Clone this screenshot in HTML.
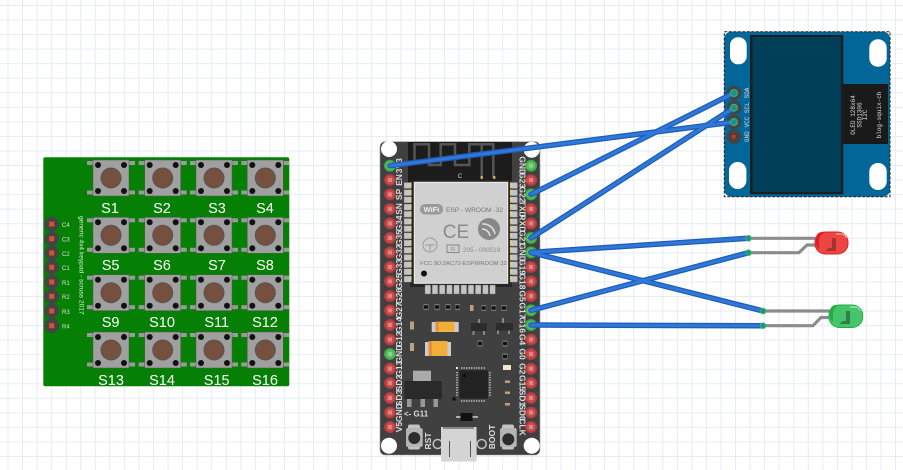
<!DOCTYPE html>
<html><head><meta charset="utf-8">
<style>
html,body{margin:0;padding:0;background:#fff;width:903px;height:470px;overflow:hidden}
svg{display:block}
text{font-family:"Liberation Sans",sans-serif}
.s{font-size:14.5px;fill:#fff;text-anchor:middle}
.k{font-size:6px;fill:#cfe8cf}
.l{font-size:8.5px;fill:#ddd;text-anchor:middle;font-weight:bold}
.m{font-family:"Liberation Mono",monospace;fill:#ddd}
</style></head><body>
<svg width="903" height="470" viewBox="0 0 903 470" xmlns="http://www.w3.org/2000/svg">
<defs>
<pattern id="g" width="14.55" height="14.55" patternUnits="userSpaceOnUse" x="7.5" y="5">
<path d="M0 0V14.55M0 0H14.55" stroke="#e6ebf3" stroke-width="2" fill="none"/>
</pattern>
<g id="btn">
<rect x="-24" y="-17" width="48" height="4" fill="#9a9a9a"/>
<rect x="-24" y="12.500" width="48" height="4" fill="#9a9a9a"/>
<rect x="-18" y="-18" width="36" height="36" fill="#a0a0a0" stroke="#555" stroke-width=".5"/>
<circle r="10" fill="#75503f" stroke="#555" stroke-width="1"/>
<circle cx="-13" cy="-13" r="3" fill="#111"/><circle cx="13" cy="-13" r="3" fill="#111"/>
<circle cx="-13" cy="13" r="3" fill="#111"/><circle cx="13" cy="13" r="3" fill="#111"/>
</g>
<g id="kp"><circle r="7.300" fill="#444"/><rect x="-2.500" y="-2.500" width="5" height="5" fill="#d9502f"/></g>
<g id="rp"><circle r="6" fill="#b23a3a"/><circle r="4.400" fill="#c64e4e"/><rect x="-2" y="-2" width="4" height="4" fill="#dd8585"/></g>
<g id="gp"><circle r="6" fill="#3aa845"/><circle r="4.400" fill="#5dbb62"/><rect x="-2" y="-2" width="4" height="4" fill="#8ed092"/></g>
<g id="pad"><rect width="7.500" height="6" fill="#c4c4c4" stroke="#666" stroke-width=".3"/></g>
<g id="sm"><rect x="-2.500" y="-3" width="5" height="6" fill="#777"/><rect x="-2" y="-1.700" width="4" height="3.400" fill="#111"/></g>
</defs>
<rect width="903" height="470" fill="#fff"/>
<rect width="903" height="470" fill="url(#g)"/>

<!-- Keypad -->
<rect x="43.300" y="157.300" width="246" height="229" rx="2" fill="#058005"/>
<use href="#btn" x="111" y="178"/><use href="#btn" x="162.700" y="178"/><use href="#btn" x="214" y="178"/><use href="#btn" x="265.300" y="178"/>
<use href="#btn" x="111" y="235.300"/><use href="#btn" x="162.700" y="235.300"/><use href="#btn" x="214" y="235.300"/><use href="#btn" x="265.300" y="235.300"/>
<use href="#btn" x="111" y="292.700"/><use href="#btn" x="162.700" y="292.700"/><use href="#btn" x="214" y="292.700"/><use href="#btn" x="265.300" y="292.700"/>
<use href="#btn" x="111" y="350"/><use href="#btn" x="162.700" y="350"/><use href="#btn" x="214" y="350"/><use href="#btn" x="265.300" y="350"/>
<text class="s" x="110" y="213">S1</text><text class="s" x="162" y="213">S2</text><text class="s" x="217" y="213">S3</text><text class="s" x="265" y="213">S4</text>
<text class="s" x="110.600" y="270">S5</text><text class="s" x="162" y="270">S6</text><text class="s" x="217" y="270">S7</text><text class="s" x="265" y="270">S8</text>
<text class="s" x="110.600" y="327">S9</text><text class="s" x="162" y="327">S10</text><text class="s" x="216.700" y="327">S11</text><text class="s" x="265" y="327">S12</text>
<text class="s" x="111" y="385">S13</text><text class="s" x="162" y="385">S14</text><text class="s" x="216.700" y="385">S15</text><text class="s" x="265" y="385">S16</text>
<use href="#kp" x="51.700" y="224"/><use href="#kp" x="51.700" y="238.700"/><use href="#kp" x="51.700" y="253"/><use href="#kp" x="51.700" y="267.300"/><use href="#kp" x="51.700" y="282"/><use href="#kp" x="51.700" y="296.300"/><use href="#kp" x="51.700" y="311"/><use href="#kp" x="51.700" y="325.700"/>
<text class="k" x="62" y="227">C4</text><text class="k" x="62" y="241.500">C3</text><text class="k" x="62" y="256">C2</text><text class="k" x="62" y="270">C1</text><text class="k" x="62" y="285">R1</text><text class="k" x="62" y="299">R2</text><text class="k" x="62" y="314">R3</text><text class="k" x="62" y="328.500">R4</text>
<text transform="translate(79.500,216) rotate(90)" font-size="6.600" fill="#d8f0d8">generic 4x4 keypad - scruss 2017</text>

<!-- ESP32 -->
<rect x="380" y="141.700" width="160" height="313.300" rx="5" fill="#404040" stroke="#999" stroke-width=".6"/>
<rect x="408" y="142" width="104" height="44" fill="#1c1c1c"/>
<path d="M414.500 165V144.300H429V165H440.700V144.300H455V165H469.300V144.300H493.300V178M481.700 144.300V178" fill="none" stroke="#555" stroke-width="2.500"/>
<rect x="480.700" y="176" width="2" height="3" fill="#d8c060"/><rect x="493.300" y="176" width="2" height="3" fill="#d8c060"/>
<text x="460" y="178" font-size="6" fill="#ddd" text-anchor="middle">C</text>
<rect x="410" y="180" width="102" height="107" fill="#262626"/>
<!-- pads -->
<use href="#pad" x="404" y="182.500"/><use href="#pad" x="404" y="189.700"/><use href="#pad" x="404" y="196.900"/><use href="#pad" x="404" y="204.100"/><use href="#pad" x="404" y="211.300"/><use href="#pad" x="404" y="218.500"/><use href="#pad" x="404" y="225.700"/><use href="#pad" x="404" y="232.900"/><use href="#pad" x="404" y="240.100"/><use href="#pad" x="404" y="247.300"/><use href="#pad" x="404" y="254.500"/><use href="#pad" x="404" y="261.700"/><use href="#pad" x="404" y="268.900"/><use href="#pad" x="404" y="276.100"/>
<use href="#pad" x="510" y="182.500"/><use href="#pad" x="510" y="189.700"/><use href="#pad" x="510" y="196.900"/><use href="#pad" x="510" y="204.100"/><use href="#pad" x="510" y="211.300"/><use href="#pad" x="510" y="218.500"/><use href="#pad" x="510" y="225.700"/><use href="#pad" x="510" y="232.900"/><use href="#pad" x="510" y="240.100"/><use href="#pad" x="510" y="247.300"/><use href="#pad" x="510" y="254.500"/><use href="#pad" x="510" y="261.700"/><use href="#pad" x="510" y="268.900"/><use href="#pad" x="510" y="276.100"/>
<path d="M410.500 182.500v98M511 182.500v98" stroke="#e6d36a" stroke-width="1.600" stroke-dasharray="4 3.200"/>
<g fill="#c4c4c4" stroke="#666" stroke-width=".3">
<rect x="425" y="285" width="5.600" height="9"/><rect x="432.200" y="285" width="5.600" height="9"/><rect x="439.400" y="285" width="5.600" height="9"/><rect x="446.600" y="285" width="5.600" height="9"/><rect x="453.800" y="285" width="5.600" height="9"/><rect x="461" y="285" width="5.600" height="9"/><rect x="468.200" y="285" width="5.600" height="9"/><rect x="475.400" y="285" width="5.600" height="9"/><rect x="482.600" y="285" width="5.600" height="9"/><rect x="489.800" y="285" width="5.600" height="9"/>
</g>
<rect x="414.300" y="182.300" width="93.400" height="101" fill="#d0d0d0" stroke="#eee" stroke-width="1"/>
<rect x="420" y="204" width="23" height="10.500" rx="5" fill="#999"/>
<text x="431.500" y="212" font-size="7.500" font-weight="bold" fill="#eee" text-anchor="middle">WiFi</text>
<text x="446" y="212" font-size="6.600" fill="#777">ESP - WROOM -32</text>
<text x="456" y="238" font-size="19" fill="#8a8a8a" text-anchor="middle">CE</text>
<circle cx="489" cy="229" r="11" fill="#888"/>
<path d="M482 224a12 12 0 0 1 13 10M482 229a8 8 0 0 1 8 7" stroke="#ddd" stroke-width="1.600" fill="none"/>
<circle cx="430" cy="245" r="7" fill="none" stroke="#999" stroke-width="1"/><path d="M425 245h10M430 245v6" stroke="#999"/>
<rect x="447" y="245" width="12" height="7.500" fill="none" stroke="#888"/>
<text x="453" y="251" font-size="5.500" fill="#888" text-anchor="middle">R</text>
<text x="463" y="252" font-size="6.300" fill="#888">205 - 000519</text>
<text x="420" y="265" font-size="5.900" fill="#777">FCC 9D:2AC72-ESPWROOM 32</text>
<circle cx="424" cy="273.500" r="3" fill="#111"/>
<!-- SMD -->
<use href="#sm" x="426" y="307"/><use href="#sm" x="437" y="307"/><use href="#sm" x="448" y="307"/><use href="#sm" x="457.500" y="307"/><use href="#sm" x="483.700" y="308"/><use href="#sm" x="493.700" y="308"/><use href="#sm" x="504" y="308"/>
<rect x="470" y="305" width="3.500" height="6" fill="#b9a27f"/>
<rect x="410" y="321.500" width="4" height="8" fill="#b9a27f"/><rect x="410" y="343" width="4" height="8" fill="#b9a27f"/>
<rect x="431.700" y="322" width="27" height="10" fill="#ccc"/><rect x="435.500" y="321.700" width="19" height="10" fill="#f3ae38"/><rect x="435.500" y="321.700" width="3" height="10" fill="#ec8a3e"/>
<rect x="425" y="342" width="26" height="14" fill="#ccc"/><rect x="428.500" y="341" width="19" height="15" fill="#f3ae38"/><rect x="428.500" y="341" width="3.500" height="15" fill="#ec8a3e"/>
<path d="M479 319v5M473.500 331v4M484 331v4M503 318v5M498 330v4M509 330v4" stroke="#888" stroke-width="2"/>
<rect x="471" y="323" width="16" height="8" fill="#2c2c2c"/><rect x="496" y="323" width="17" height="7.500" fill="#2c2c2c"/>
<use href="#sm" x="480" y="343.500"/><use href="#sm" x="505" y="343.500"/><use href="#sm" x="505" y="356.500"/>
<rect x="503" y="365" width="8" height="5" fill="#eee8cc"/>
<rect x="505" y="380.500" width="5" height="2.500" fill="#b9a27f"/><rect x="505" y="391.500" width="5" height="2.500" fill="#b9a27f"/><rect x="505" y="403" width="5" height="2.500" fill="#b9a27f"/>
<rect x="459" y="370" width="29.300" height="29" fill="#222" stroke="#555" stroke-width=".5"/>
<path d="M461 368h25M461 401h25M457 372v25M490 372v25" stroke="#ccc" stroke-width="1.500" stroke-dasharray="1.300 1.200"/>
<rect x="456" y="367" width="2" height="2" fill="#eee"/><circle cx="464.500" cy="375.500" r="1.300" fill="#000"/>
<circle cx="454" cy="399" r="1.800" fill="#111"/>
<rect x="413" y="370.700" width="18" height="10.500" fill="#aaa"/>
<rect x="404.300" y="381" width="37.400" height="18" fill="#2a2a2a"/>
<rect x="407" y="399" width="4.500" height="8" fill="#999"/><rect x="420.500" y="399" width="4.500" height="8" fill="#999"/><rect x="433.500" y="399" width="4.500" height="8" fill="#999"/>
<text x="404" y="416.500" font-size="8" fill="#ddd" font-weight="bold">&lt;- G11</text>
<rect x="456" y="416" width="22" height="2" fill="#aaa"/><rect x="460.500" y="413" width="12" height="8" fill="#111"/>
<rect x="408" y="424.500" width="12" height="25" rx="2" fill="#c4c4c4"/><rect x="406" y="428" width="16.700" height="19" rx="2" fill="#b5b5b5"/><circle cx="414.300" cy="438" r="6" fill="#2d2d2d"/>
<rect x="502" y="424.500" width="12" height="25" rx="2" fill="#c4c4c4"/><rect x="500" y="428" width="16.700" height="19" rx="2" fill="#b5b5b5"/><circle cx="508.300" cy="439.300" r="6" fill="#2d2d2d"/>
<text class="l" transform="translate(431,441) rotate(-90)" font-size="8">RST</text>
<text class="l" transform="translate(495,437) rotate(-90)" font-size="8">BOOT</text>
<circle cx="437.700" cy="444" r="4.500" fill="none" stroke="#c0c0c0" stroke-width="1.500"/><circle cx="481.700" cy="444" r="4.500" fill="none" stroke="#c0c0c0" stroke-width="1.500"/>
<path d="M441 427H476.500L476.700 461.500H441Z" fill="#d4d4d4"/><path d="M443 427H474V429H443Z" fill="#888"/>
<path d="M449.500 441V457M470.500 441V457" stroke="#555" stroke-width="1"/>
<!-- holes -->
<circle cx="389" cy="149" r="8" fill="#fff"/><circle cx="531.700" cy="149.700" r="8" fill="#fff"/><circle cx="389" cy="445.700" r="8" fill="#fff"/><circle cx="531.700" cy="445.700" r="8" fill="#fff"/>
<!-- left pins -->
<use href="#gp" x="390" y="165.700"/><use href="#rp" x="390" y="180"/><use href="#rp" x="390" y="194.400"/><use href="#rp" x="390" y="209"/><use href="#rp" x="390" y="223.400"/><use href="#rp" x="390" y="238"/><use href="#rp" x="390" y="252.400"/><use href="#rp" x="390" y="267"/><use href="#rp" x="390" y="281.400"/><use href="#rp" x="390" y="296"/><use href="#rp" x="390" y="310.400"/><use href="#rp" x="390" y="325"/><use href="#rp" x="390" y="339.500"/><use href="#gp" x="390" y="354"/><use href="#rp" x="390" y="368.700"/><use href="#rp" x="390" y="383"/><use href="#rp" x="390" y="398"/><use href="#rp" x="390" y="412.500"/><use href="#rp" x="390" y="427"/>
<!-- right pins -->
<use href="#gp" x="531" y="165.700"/><use href="#rp" x="531" y="180"/><use href="#gp" x="531" y="194.400"/><use href="#rp" x="531" y="209"/><use href="#rp" x="531" y="223.400"/><use href="#gp" x="531" y="238"/><use href="#gp" x="531" y="252.400"/><use href="#rp" x="531" y="267"/><use href="#rp" x="531" y="281.400"/><use href="#rp" x="531" y="296"/><use href="#gp" x="531" y="310.400"/><use href="#gp" x="531" y="325"/><use href="#rp" x="531" y="339.500"/><use href="#rp" x="531" y="354"/><use href="#rp" x="531" y="368.700"/><use href="#rp" x="531" y="383"/><use href="#rp" x="531" y="398"/><use href="#rp" x="531" y="412.500"/><use href="#rp" x="531" y="427"/>
<!-- left labels -->
<text class="l" transform="translate(402,165.700) rotate(-90)">3V3</text>
<text class="l" transform="translate(402,180) rotate(-90)">EN</text>
<text class="l" transform="translate(402,194.400) rotate(-90)">SP</text>
<text class="l" transform="translate(402,209) rotate(-90)">SN</text>
<text class="l" transform="translate(402,223.400) rotate(-90)">G34</text>
<text class="l" transform="translate(402,238) rotate(-90)">G35</text>
<text class="l" transform="translate(402,252.400) rotate(-90)">G32</text>
<text class="l" transform="translate(402,267) rotate(-90)">G33</text>
<text class="l" transform="translate(402,281.400) rotate(-90)">G25</text>
<text class="l" transform="translate(402,296) rotate(-90)">G26</text>
<text class="l" transform="translate(402,310.400) rotate(-90)">G27</text>
<text class="l" transform="translate(402,325) rotate(-90)">G14</text>
<text class="l" transform="translate(402,339.500) rotate(-90)">G12</text>
<text class="l" transform="translate(402,354) rotate(-90)">GND</text>
<text class="l" transform="translate(402,368.700) rotate(-90)">G13</text>
<text class="l" transform="translate(402,383) rotate(-90)">SD2</text>
<text class="l" transform="translate(402,398) rotate(-90)">SD3</text>
<text class="l" transform="translate(402,412.500) rotate(-90)">GND</text>
<text class="l" transform="translate(402,427) rotate(-90)">V5</text>
<!-- right labels -->
<text class="l" transform="translate(519.500,165.700) rotate(90)">GND</text>
<text class="l" transform="translate(519.500,180) rotate(90)">G23</text>
<text class="l" transform="translate(519.500,194.400) rotate(90)">G22</text>
<text class="l" transform="translate(519.500,209) rotate(90)">TXD</text>
<text class="l" transform="translate(519.500,223.400) rotate(90)">RXD</text>
<text class="l" transform="translate(519.500,238) rotate(90)">G21</text>
<text class="l" transform="translate(519.500,252.400) rotate(90)">GND</text>
<text class="l" transform="translate(519.500,267) rotate(90)">G19</text>
<text class="l" transform="translate(519.500,281.400) rotate(90)">G18</text>
<text class="l" transform="translate(519.500,296) rotate(90)">G5</text>
<text class="l" transform="translate(519.500,310.400) rotate(90)">G17</text>
<text class="l" transform="translate(519.500,325) rotate(90)">G16</text>
<text class="l" transform="translate(519.500,339.500) rotate(90)">G4</text>
<text class="l" transform="translate(519.500,354) rotate(90)">G0</text>
<text class="l" transform="translate(519.500,368.700) rotate(90)">G2</text>
<text class="l" transform="translate(519.500,383) rotate(90)">G15</text>
<text class="l" transform="translate(519.500,398) rotate(90)">SD1</text>
<text class="l" transform="translate(519.500,412.500) rotate(90)">SD0</text>
<text class="l" transform="translate(519.500,427) rotate(90)">CLK</text>

<!-- OLED -->
<rect x="724.300" y="31.700" width="165.700" height="165" rx="7" fill="#036699"/>
<rect x="724.300" y="31.700" width="165.700" height="165" fill="none" stroke="#222" stroke-width="1" stroke-dasharray="3 1.500"/>
<rect x="750" y="35" width="93.300" height="159.300" fill="#1c1f22"/>
<rect x="752.500" y="37" width="88.300" height="155" fill="#003f57"/>
<rect x="843" y="84" width="45" height="60" fill="#1a1a1a"/>
<rect x="730" y="37.300" width="16.700" height="27" rx="8" fill="#fff"/>
<rect x="869.300" y="39.300" width="17.400" height="27.400" rx="8.500" fill="#fff"/>
<rect x="729" y="162" width="17.400" height="27" rx="8.500" fill="#fff"/>
<rect x="869.300" y="163" width="17.400" height="27" rx="8.500" fill="#fff"/>
<circle cx="734" cy="93" r="7.300" fill="#444"/><circle cx="734" cy="107.700" r="7.300" fill="#444"/><circle cx="734" cy="122" r="7.300" fill="#444"/><circle cx="734" cy="136.700" r="7.300" fill="#444"/>
<rect x="732" y="135" width="3.500" height="3.500" fill="#d9331a"/>
<text class="m" font-size="6" transform="translate(749,93) rotate(-90)" text-anchor="middle">SDA</text>
<text class="m" font-size="6" transform="translate(749,107.700) rotate(-90)" text-anchor="middle">SCL</text>
<text class="m" font-size="6" transform="translate(749,122) rotate(-90)" text-anchor="middle">VCC</text>
<text class="m" font-size="6" transform="translate(749,136.700) rotate(-90)" text-anchor="middle">GND</text>
<text class="m" font-size="6" transform="translate(855,115) rotate(-90)" text-anchor="middle">OLED 128x64</text>
<text class="m" font-size="6" transform="translate(861.500,115) rotate(-90)" text-anchor="middle">SSD1306</text>
<text class="m" font-size="6" transform="translate(867,115) rotate(-90)" text-anchor="middle">I2C</text>
<text class="m" font-size="6" transform="translate(881,115) rotate(-90)" text-anchor="middle">blog-squix-ch</text>

<!-- LEDs -->
<g fill="none" stroke="#8c8c8c" stroke-width="3.200">
<path d="M750 238.300H816"/>
<path d="M750 252.700H799L807 245H816"/>
<path d="M765 311H830"/>
<path d="M765 325.700H813L821 317.500H830"/>
</g>
<rect x="815" y="232" width="33" height="22" rx="10.500" fill="#ee4444" stroke="#dc2020" stroke-width="1"/>
<path d="M816 238a6 6 0 0 1 6-6h5a9 9 0 0 0-8 10v7a8 8 0 0 1-3-6Z" fill="#dc2020"/>
<path d="M832 238h4v13h-11l4-3h3Z" fill="#a83232"/>
<path d="M836 234h6a5 5 0 0 1 4 4" stroke="#f7a0a0" stroke-width="1.200" fill="none"/>
<rect x="829" y="305" width="33.700" height="22.500" rx="10.500" fill="#46c46a" stroke="#1fae45" stroke-width="1"/>
<path d="M830 311a6 6 0 0 1 6-6h5a9 9 0 0 0-8 10v7a8 8 0 0 1-3-6Z" fill="#1fae45"/>
<path d="M846 311h4v13h-11l4-3h3Z" fill="#2d8048"/>
<path d="M850 307h6a5 5 0 0 1 4 4" stroke="#a5e6b8" stroke-width="1.200" fill="none"/>

<!-- Wires -->
<g fill="none" stroke-linecap="round">
<g stroke="#1e5cb8" stroke-width="5.500">
<path d="M390 165.700L734 122"/><path d="M531 194.400L734 93"/><path d="M531 238L734 107.700"/>
<path d="M531 252.400L748.500 238.300"/><path d="M531 252.400L763 311"/><path d="M531 310.400L748.500 252.700"/><path d="M531 325L763 325.700"/>
</g>
<g stroke="#2f78d8" stroke-width="3">
<path d="M390 165.700L734 122"/><path d="M531 194.400L734 93"/><path d="M531 238L734 107.700"/>
<path d="M531 252.400L748.500 238.300"/><path d="M531 252.400L763 311"/><path d="M531 310.400L748.500 252.700"/><path d="M531 325L763 325.700"/>
</g>
</g>
<g fill="#1f8f8a" stroke="#3bb86a" stroke-width="1">
<circle cx="734" cy="93" r="3.500"/><circle cx="734" cy="107.700" r="3.500"/><circle cx="734" cy="122" r="3.500"/>
<circle cx="748.500" cy="238.300" r="2.800"/><circle cx="748.500" cy="252.700" r="2.800"/><circle cx="763" cy="311" r="2.800"/><circle cx="763" cy="325.700" r="2.800"/>
</g>
</svg>
</body></html>
